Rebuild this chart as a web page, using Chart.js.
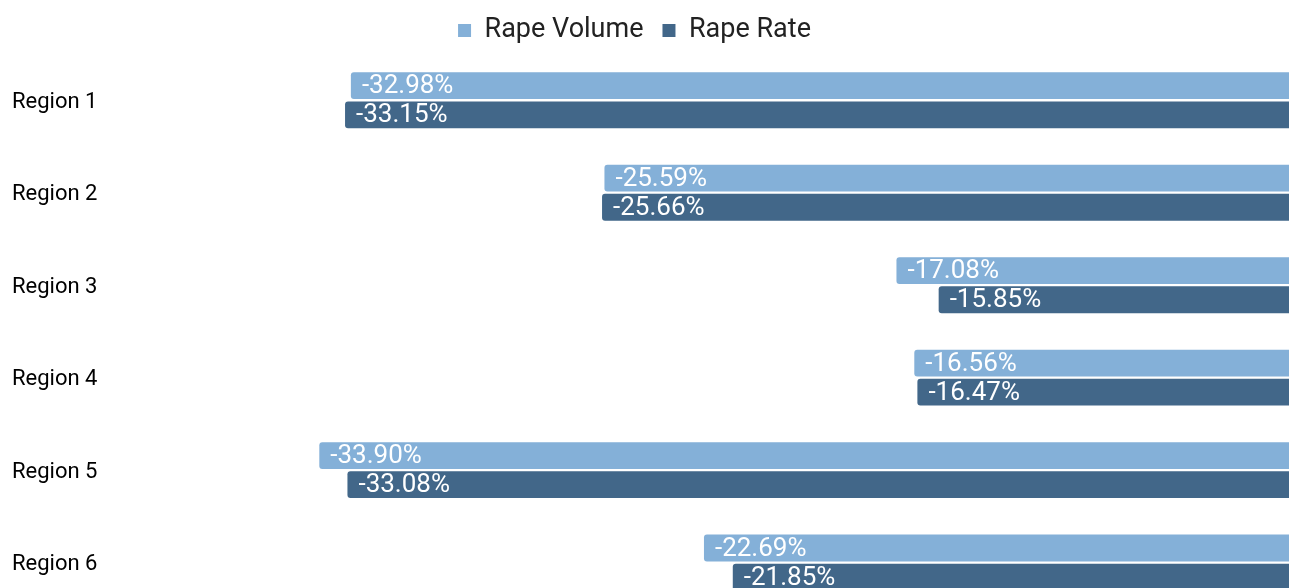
<!DOCTYPE html>
<html>
<head>
<meta charset="utf-8">
<script src="https://cdn.jsdelivr.net/npm/chart.js@4.4.1/dist/chart.umd.min.js"></script>
<style>
  body { margin: 0; overflow: hidden; background: #fff; }
  #wrap { width: 1291px; height: 625px; position: relative; }
</style>
</head>
<body>
<div id="wrap"><canvas id="chart"></canvas></div>
<script>
var regions = ['Region 1', 'Region 2', 'Region 3', 'Region 4', 'Region 5', 'Region 6'];
var rapeVolume = [-32.98, -25.59, -17.08, -16.56, -33.90, -22.69];
var rapeRate = [-33.15, -25.66, -15.85, -16.47, -33.08, -21.85];

// white percent labels just inside the left end of each bar
var valueLabels = {
    id: 'valueLabels',
    afterLayout: function (chart) {
        // legend sits a bit left of centre in the original
        chart.legend.left -= 32;
    },
    afterDatasetsDraw: function (chart) {
        var ctx = chart.ctx;
        ctx.save();
        ctx.font = '26px Roboto';
        ctx.fillStyle = '#ffffff';
        ctx.textBaseline = 'middle';
        chart.data.datasets.forEach(function (ds, i) {
            chart.getDatasetMeta(i).data.forEach(function (bar, j) {
                ctx.fillText(ds.data[j].toFixed(2) + '%', bar.x + 11, bar.y + 1);
            });
        });
        ctx.restore();
    }
};

var myChart = new Chart(document.getElementById('chart'), {
    type: 'bar',
    data: {
        labels: regions,
        datasets: [
            {
                label: 'Rape Volume',
                data: rapeVolume,
                backgroundColor: '#84b0d8',
                borderRadius: 3,
                borderSkipped: false
            },
            {
                label: 'Rape Rate',
                data: rapeRate,
                backgroundColor: '#426789',
                borderRadius: 3,
                borderSkipped: false
            }
        ]
    },
    options: {
        indexAxis: 'y',
        responsive: true,
        maintainAspectRatio: false,
        animation: false,
        categoryPercentage: 0.63,
        barPercentage: 0.92,
        layout: { padding: { left: 12, right: 2, top: -2, bottom: 0 } },
        plugins: {
            legend: {
                position: 'top',
                labels: {
                    color: '#222',
                    font: { family: 'Roboto', size: 27 },
                    boxWidth: 13,
                    boxHeight: 13,
                    padding: 19
                }
            },
            tooltip: { enabled: false }
        },
        scales: {
            x: {
                display: false,
                min: -40,
                max: -5.64
            },
            y: {
                grid: { display: false },
                border: { display: false },
                afterFit: function (scale) { scale.width = 98; },
                ticks: {
                    crossAlign: 'far',
                    labelOffset: 2,
                    color: '#000',
                    font: { family: 'Roboto', size: 22 }
                }
            }
        }
    },
    plugins: [valueLabels]
});
</script>
</body>
</html>
